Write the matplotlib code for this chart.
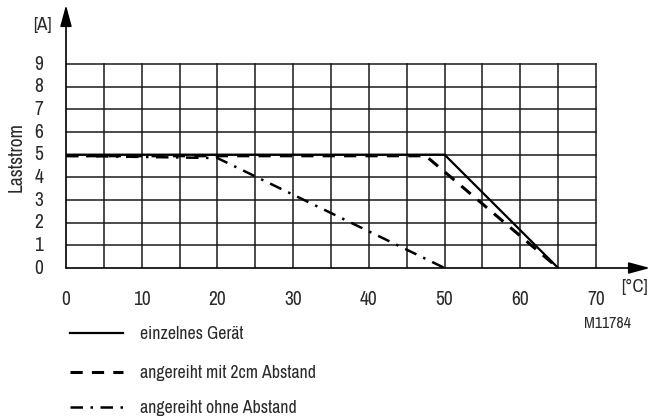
import matplotlib.pyplot as plt
from matplotlib import font_manager

# data
temp_single = [0, 50, 65]
amp_single = [5, 5, 0]
temp_2cm = [0, 47.5, 65]
amp_2cm = [4.95, 4.95, 0]
temp_none = [0, 20, 50]
amp_none = [4.95, 4.85, 0]

x_ticks = [0, 10, 20, 30, 40, 50, 60, 70]
y_ticks = list(range(10))
legend_labels = ["einzelnes Gerät", "angereiht mit 2cm Abstand", "angereiht ohne Abstand"]

names = {f.name for f in font_manager.fontManager.ttflist}
wanted = ["Liberation Sans Narrow", "Archivo Narrow", "PT Sans Narrow", "Roboto Condensed",
          "Arimo", "Liberation Sans"]
fam = next(n for n in wanted if n in names)
plt.rcParams['font.family'] = [fam, 'DejaVu Sans']

W, H = 662, 417
fig = plt.figure(figsize=(W / 100, H / 100), dpi=100)

# pixel mapping: x 0 -> 66px, 70 -> 596px ; y 0 -> 268px, 9 -> 64px
x0, x70 = 66, 596
y0, y9 = 268, 64
xmax = 70 + (650 - x70) / ((x70 - x0) / 70)
ymax = 9 + (y9 - 5) / ((y0 - y9) / 9)
ax = fig.add_axes([x0 / W, (H - y0) / H, (650 - x0) / W, (y0 - 5) / H])
ax.set_xlim(0, xmax)
ax.set_ylim(0, ymax)
ax.axis('off')

gc = '#1a1a1a'
for xv in range(5, 75, 5):
    ax.plot([xv, xv], [0, 9], color=gc, lw=1.1, zorder=1)
for yv in range(1, 10):
    ax.plot([0, 70], [yv, yv], color=gc, lw=1.1, zorder=1)

# axes with arrows
arr = dict(arrowstyle='-|>,head_length=1.3,head_width=0.35', color='black', lw=1.2, shrinkA=0, shrinkB=0)
ax.annotate('', xy=(xmax, 0), xytext=(0, 0), arrowprops=arr)
ax.annotate('', xy=(0, ymax), xytext=(0, 0), arrowprops=arr)

ax.plot(temp_single, amp_single, color='black', lw=1.6, zorder=3, solid_capstyle='butt')
ax.plot(temp_2cm, amp_2cm, color='black', lw=2.2, ls=(0, (4, 3)), zorder=3)
ax.plot(temp_none, amp_none, color='black', lw=1.8, ls=(0, (5, 3, 1, 3)), zorder=3)

tc = '#2a2a2a'
for xv in x_ticks:
    ax.text(xv, -1.37, str(xv), ha='center', va='center', fontsize=14, color=tc)
for yv in y_ticks:
    ax.text(-3.0, yv, str(yv), ha='right', va='center', fontsize=14, color=tc)

fig.text(42 / W, 1 - 25 / H, '[A]', ha='center', va='center', fontsize=13.5, color=tc)
fig.text(16 / W, 1 - 157 / H, 'Laststrom', ha='center', va='center', rotation=90, fontsize=14, color=tc)
fig.text(634 / W, 1 - 287 / H, '[°C]', ha='center', va='center', fontsize=13.5, color=tc)
fig.text(607 / W, 1 - 324 / H, 'M11784', ha='center', va='center', fontsize=11.5, color=tc)

# legend drawn below the chart
leg_y = [333, 372, 407]
styles = [dict(lw=1.6, ls='-'), dict(lw=2.2, ls=(0, (4, 3))), dict(lw=1.8, ls=(0, (5, 3, 1, 3)))]
for yy, lab, st in zip(leg_y, legend_labels, styles):
    fig.add_artist(plt.Line2D([70 / W, 123 / W], [1 - yy / H, 1 - yy / H], color='black', **st))
    fig.text(140 / W, 1 - (yy + 1) / H, lab, ha='left', va='center', fontsize=12.8, color=tc)

fig.savefig('out.png', dpi=100)
